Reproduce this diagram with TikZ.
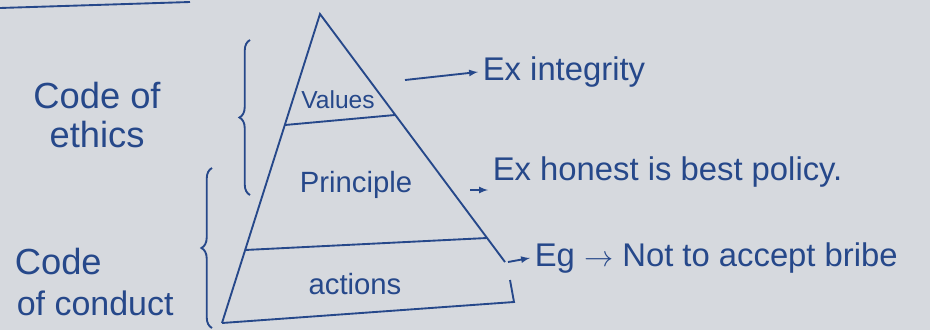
\documentclass[tikz,border=0pt]{standalone}
\usepackage{fontspec}
\setmainfont{Liberation Sans}
\usetikzlibrary{arrows.meta, decorations.pathreplacing, positioning}
\definecolor{ink}{RGB}{38,72,138}
\definecolor{paper}{RGB}{214,217,222}

\begin{document}
\begin{tikzpicture}[x=0.03cm, y=-0.03cm, font=\fontsize{28}{32}\selectfont, >=latex,
    line width=1.6pt, ink, text=ink,
    level/.style={font=\fontsize{25}{28}\selectfont, inner sep=1pt},
    side/.style={font=\fontsize{31}{34}\selectfont, align=center},
    curly/.style={decorate, decoration={brace, amplitude=9pt}}]
    \fill[paper] (0,0) rectangle (930,330);
    \useasboundingbox (0,0) rectangle (930,330);
    \draw (0,8) -- (190,2);
    % pyramid
    \coordinate (apex) at (320,14);
    \coordinate (bl) at (222,323);
    \coordinate (br) at (514,302);
    \coordinate (re) at (505,262);
    \draw (bl) -- (apex) -- (re);
    \draw (bl) -- (br) -- (510,280);
    \draw (285,125) -- (395,115);
    \draw (245,250) -- (487,238);
    \node[level, font=\fontsize{21}{24}\selectfont] (values) at (338,100) {Values};
    \node[level] (principle) at (356,185) {Principle};
    \node[level] (actions) at (355,284) {actions};
    % examples
    \coordinate (v1) at (405,80);
    \coordinate (p1) at (470,190);
    \coordinate (a1) at (508,262);
    \node[anchor=west] (ex1) at (478,72) {Ex integrity};
    \node[anchor=west] (ex2) at (488,172) {Ex honest is best policy.};
    \node[anchor=west] (ex3) at (530,258) {Eg $\to$ Not to accept bribe};
    \draw[->] (v1) -- (ex1.west);
    \draw[->] (p1) -- (ex2.west |- p1);
    \draw[->] (a1) -- (ex3.west);
    % braces
    \draw[curly] (250,195) -- (250,40);
    \draw[curly] (212,328) -- (212,168);
    \node[side] (ethics) at (97,115) {Code of\\ethics};
    \node[side, anchor=west] (code) at (10,262) {Code};
    \node[side, anchor=west, font=\fontsize{29}{32}\selectfont] (conduct) at (12,303) {of conduct};
\end{tikzpicture}
\end{document}
